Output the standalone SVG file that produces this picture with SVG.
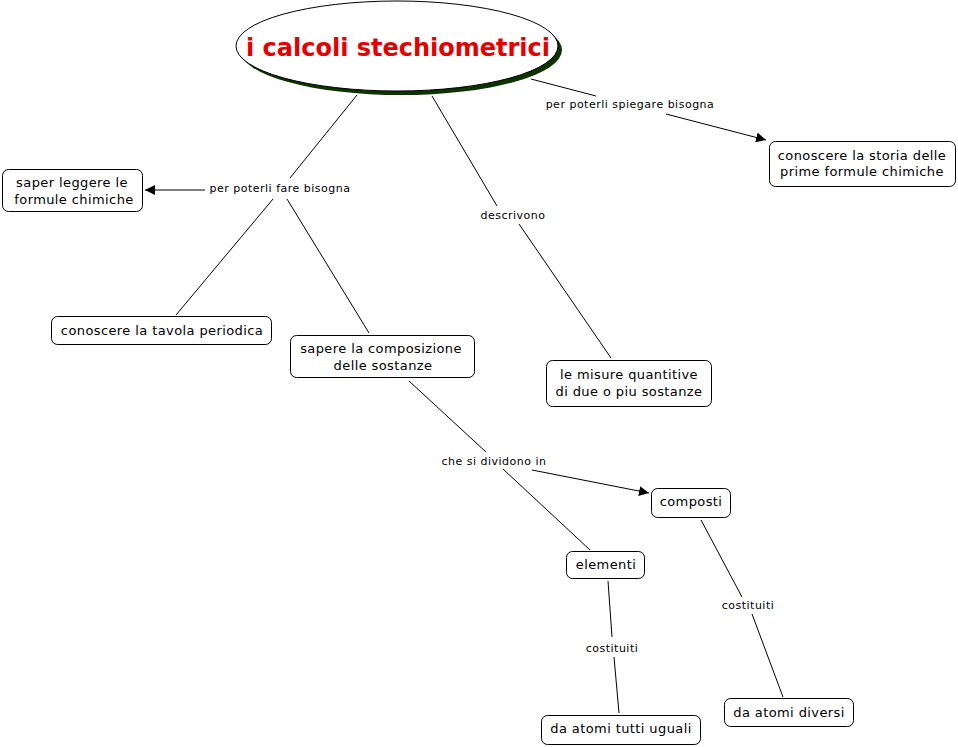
<svg xmlns="http://www.w3.org/2000/svg" width="958" height="747" viewBox="0 0 958 747">
<defs>
<style>
.box{fill:#fff;stroke:#000;stroke-width:1}
.t{font-family:"DejaVu Sans",Verdana,sans-serif;font-size:13px;letter-spacing:0.4px;fill:#000;text-anchor:middle}
.l{font-family:"DejaVu Sans",Verdana,sans-serif;font-size:11px;letter-spacing:0.5px;fill:#000;text-anchor:middle}
.c{stroke:#000;stroke-width:1;fill:none}
.title{font-family:"DejaVu Sans",Verdana,sans-serif;font-size:24px;font-weight:bold;fill:#e60000;text-anchor:middle}
</style>
<marker id="arr" viewBox="0 0 10 10" refX="10" refY="5" markerWidth="10" markerHeight="10" markerUnits="userSpaceOnUse" orient="auto">
<path d="M0,0 L10,5 L0,10 z" fill="#000"/>
</marker>
</defs>
<rect width="958" height="747" fill="#fff"/>
<g id="connectors">
<line class="c" x1="357" y1="95" x2="290" y2="178"/>
<line class="c" x1="205" y1="190" x2="145" y2="190" marker-end="url(#arr)"/>
<line class="c" x1="273" y1="199" x2="176" y2="315"/>
<line class="c" x1="287" y1="199" x2="369" y2="333"/>
<line class="c" x1="432" y1="96" x2="497" y2="206"/>
<line class="c" x1="519" y1="224" x2="611" y2="358"/>
<line class="c" x1="531" y1="79" x2="596" y2="96"/>
<line class="c" x1="666" y1="114" x2="766" y2="140" marker-end="url(#arr)"/>
<line class="c" x1="409" y1="381" x2="486" y2="452"/>
<line class="c" x1="532" y1="470" x2="649" y2="493" marker-end="url(#arr)"/>
<line class="c" x1="503" y1="469" x2="590" y2="550"/>
<line class="c" x1="608" y1="581" x2="612" y2="637"/>
<line class="c" x1="614" y1="657" x2="619" y2="713"/>
<line class="c" x1="701" y1="520" x2="742" y2="597"/>
<line class="c" x1="752" y1="614" x2="783" y2="697"/>
<text class="l" x="280" y="192">per poterli fare bisogna</text>
<text class="l" x="513" y="219">descrivono</text>
<text class="l" x="630" y="108">per poterli spiegare bisogna</text>
<text class="l" x="494" y="465">che si dividono in</text>
<text class="l" x="612" y="652">costituiti</text>
<text class="l" x="748" y="609">costituiti</text>
</g>
<g id="title">
<ellipse cx="401" cy="50" rx="161" ry="45" fill="#0d3300"/>
<ellipse cx="397" cy="46" rx="161" ry="45" fill="#fff" stroke="#000" stroke-width="1"/>
<text class="title" x="398" y="56">i calcoli stechiometrici</text>
</g>
<g id="saper-leggere">
<rect class="box" x="2.5" y="169.5" width="140" height="42" rx="6"/>
<text class="t" x="72" y="187">saper leggere le</text>
<text class="t" x="74" y="204">formule chimiche</text>
</g>
<g id="storia">
<rect class="box" x="769.5" y="141.5" width="186" height="45" rx="6"/>
<text class="t" x="862" y="160">conoscere la storia delle</text>
<text class="t" x="862" y="176">prime formule chimiche</text>
</g>
<g id="tavola">
<rect class="box" x="51.5" y="316.5" width="220" height="28" rx="6"/>
<text class="t" x="162" y="335">conoscere la tavola periodica</text>
</g>
<g id="composizione">
<rect class="box" x="290.5" y="335.5" width="184" height="42" rx="6"/>
<text class="t" x="381" y="353">sapere la composizione</text>
<text class="t" x="383" y="370">delle sostanze</text>
</g>
<g id="misure">
<rect class="box" x="546.5" y="360.5" width="165" height="46" rx="6"/>
<text class="t" x="629" y="379">le misure quantitive</text>
<text class="t" x="629" y="396">di due o piu sostanze</text>
</g>
<g id="composti">
<rect class="box" x="651.5" y="488.5" width="79" height="29" rx="6"/>
<text class="t" x="691" y="506">composti</text>
</g>
<g id="elementi">
<rect class="box" x="566.5" y="551.5" width="78" height="27" rx="6"/>
<text class="t" x="606" y="569">elementi</text>
</g>
<g id="uguali">
<rect class="box" x="541.5" y="715.5" width="159" height="29" rx="6"/>
<text class="t" x="621" y="733">da atomi tutti uguali</text>
</g>
<g id="diversi">
<rect class="box" x="724.5" y="698.5" width="129" height="28" rx="6"/>
<text class="t" x="789" y="717">da atomi diversi</text>
</g>
</svg>
